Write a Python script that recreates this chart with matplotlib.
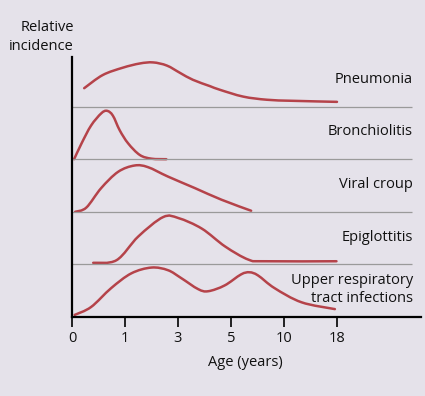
import matplotlib.pyplot as plt
from matplotlib.path import Path
from matplotlib.patches import PathPatch

plt.rcParams['font.family'] = ['Open Sans', 'DejaVu Sans']

# x is position along the age axis (tick index), y is fraction of the band height
age_ticks = [0, 1, 2, 3, 4, 5]
age_labels = ['0', '1', '3', '5', '10', '18']

diseases = ['Upper respiratory\ntract infections', 'Epiglottitis', 'Viral croup',
            'Bronchiolitis', 'Pneumonia']

urti_x = [0.05, 0.36, 0.74, 1.12, 1.50, 1.81, 2.06, 2.38, 2.57, 2.88, 3.19, 3.35, 3.51, 3.82, 4.33, 4.96]
urti_y = [0.04, 0.19, 0.55, 0.83, 0.94, 0.89, 0.74, 0.53, 0.49, 0.60, 0.81, 0.85, 0.79, 0.55, 0.28, 0.15]

epi_x = [0.40, 0.84, 1.25, 1.72, 2.01, 2.45, 2.89, 3.33, 3.64, 4.99]
epi_y = [0.03, 0.08, 0.53, 0.90, 0.88, 0.68, 0.34, 0.09, 0.06, 0.06]

croup_x = [0.06, 0.27, 0.55, 0.87, 1.18, 1.43, 1.81, 2.32, 2.82, 3.38]
croup_y = [0.00, 0.08, 0.45, 0.76, 0.88, 0.85, 0.67, 0.45, 0.23, 0.02]

bronch_x = [0.04, 0.18, 0.36, 0.55, 0.66, 0.77, 0.90, 1.06, 1.28, 1.50, 1.78]
bronch_y = [0.00, 0.30, 0.64, 0.87, 0.92, 0.83, 0.55, 0.30, 0.08, 0.01, 0.00]

pneu_x = [0.23, 0.58, 0.96, 1.28, 1.53, 1.79, 2.04, 2.28, 2.60, 2.79, 3.23, 3.68, 4.17, 5.00]
pneu_y = [0.35, 0.60, 0.74, 0.82, 0.84, 0.78, 0.64, 0.51, 0.39, 0.32, 0.19, 0.13, 0.11, 0.09]

curves = [(urti_x, urti_y), (epi_x, epi_y), (croup_x, croup_y),
          (bronch_x, bronch_y), (pneu_x, pneu_y)]

bg = '#e5e2ea'
red = '#b5434a'
ink = '#111111'


def smooth_path(xs, ys):
    # bezier segments through the read points (catmull-rom style handles)
    pts = list(zip(xs, ys))
    verts = [pts[0]]
    codes = [Path.MOVETO]
    n = len(pts)
    for k in range(n - 1):
        p0 = pts[max(k - 1, 0)]
        p1 = pts[k]
        p2 = pts[k + 1]
        p3 = pts[min(k + 2, n - 1)]
        c1 = (p1[0] + (p2[0] - p0[0]) / 6, p1[1] + (p2[1] - p0[1]) / 6)
        c2 = (p2[0] - (p3[0] - p1[0]) / 6, p2[1] - (p3[1] - p1[1]) / 6)
        verts += [c1, c2, p2]
        codes += [Path.CURVE4] * 3
    return Path(verts, codes)


fig = plt.figure(figsize=(4.25, 3.96), dpi=100, facecolor=bg)
ax = fig.add_axes([72 / 425, 79 / 396, 349 / 425, 260 / 396])
ax.set_facecolor(bg)

for i, (xs, ys) in enumerate(curves):
    path = smooth_path(xs, [i + v for v in ys])
    ax.add_patch(PathPatch(path, fill=False, edgecolor=red, lw=1.8,
                           capstyle='round', joinstyle='round', clip_on=False))
    ax.text(6.43, i + 0.52, diseases[i], ha='right', va='center',
            fontsize=10.5, color=ink, linespacing=1.3)

# band separators
ax.hlines([1, 2, 3, 4], 0, 6.42, color='#9a9a9a', lw=0.9)

ax.set_xlim(0, 349 / 53)
ax.set_ylim(0, 260 / 52.6)
ax.set_xticks(age_ticks)
ax.set_xticklabels(age_labels, fontsize=10.5, color=ink)
ax.set_yticks([])
ax.tick_params(axis='x', length=7, width=1.2, pad=3)
for s in ['top', 'right']:
    ax.spines[s].set_visible(False)
for s in ['left', 'bottom']:
    ax.spines[s].set_linewidth(1.6)
    ax.spines[s].set_color('black')

ax.set_xlabel('Age (years)', fontsize=10.5, color=ink)
ax.xaxis.set_label_coords(173 / 349, -38 / 260)
fig.text(74 / 425, 1 - 37 / 396, 'Relative\nincidence', ha='right', va='center',
         fontsize=10.5, color=ink, linespacing=1.3)

plt.savefig('out.png', dpi=100, facecolor=bg)
